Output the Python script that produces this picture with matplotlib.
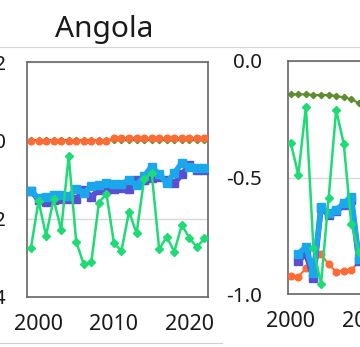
import matplotlib
matplotlib.use("Agg")
import matplotlib.pyplot as plt
from matplotlib.lines import Line2D

plt.rcParams['font.family'] = ['Noto Sans', 'DejaVu Sans']

# Angola (left panel)
years_ao = list(range(1999, 2023))
olive_ao = [0.0] * 24
orange_ao = [-0.001] * 11 + [0.006] * 13
purple_ao = [-0.129, -0.152, -0.157, -0.152, -0.151, -0.150, -0.150, -0.127,
             -0.144, -0.127, -0.127, -0.123, -0.122, -0.123, -0.101, -0.102,
             -0.097, -0.094, -0.101, -0.110, -0.087, -0.063, -0.076, -0.077]
blue_ao = [-0.129, -0.148, -0.145, -0.140, -0.140, -0.143, -0.123, -0.135,
           -0.116, -0.115, -0.110, -0.112, -0.112, -0.100, -0.115, -0.091,
           -0.067, -0.087, -0.108, -0.084, -0.057, -0.067, -0.071, -0.071]
green_ao = [-0.274, -0.155, -0.243, -0.150, -0.229, -0.040, -0.260, -0.316,
            -0.311, -0.160, -0.136, -0.263, -0.282, -0.182, -0.237, -0.099,
            -0.083, -0.278, -0.246, -0.284, -0.216, -0.249, -0.273, -0.250]

# second panel (cut off at the right edge)
years_b = list(range(2000, 2010))
olive_b = [-0.143, -0.143, -0.143, -0.146, -0.146, -0.146, -0.150, -0.156, -0.164, -0.181]
orange_b = [-0.923, -0.926, -0.890, -0.870, -0.828, -0.873, -0.904, -0.900, -0.898, -0.860]
green_b = [-0.350, -0.489, -0.196, -0.804, -0.957, -0.589, -0.210, -0.355, -0.700, -0.820]
years_b2 = list(range(2001, 2010))
purple_b = [-0.860, -0.826, -0.933, -0.630, -0.660, -0.645, -0.620, -0.597, -0.860]
blue_b = [-0.828, -0.797, -0.911, -0.625, -0.654, -0.639, -0.611, -0.582, -0.850]

C_OLIVE = '#5e8c31'
C_ORANGE = '#ff6b35'
C_PURPLE = '#5a4fcf'
C_BLUE = '#1aa7ec'
C_GREEN = '#1edb76'

fig = plt.figure(figsize=(3.6, 3.47), dpi=100)
ax1 = fig.add_axes([27 / 360, 50 / 347, 181 / 360, 235 / 347])
ax2 = fig.add_axes([287.7 / 360, 53 / 347, 181 / 360, 233 / 347])


def draw(ax, yrs, olive, orange, yrs2, purple, blue, green):
    ax.plot(yrs, olive, color=C_OLIVE, lw=1.5, marker='D', ms=3.2, zorder=2)
    ax.plot(yrs, orange, color=C_ORANGE, lw=1.5, marker='o', ms=4.8, zorder=3)
    ax.plot(yrs2, purple, color=C_PURPLE, lw=4, marker='s', ms=5.5, zorder=4)
    ax.plot(yrs2, blue, color=C_BLUE, lw=4, marker='s', ms=5.5, zorder=5)
    ax.plot(yrs, green, color=C_GREEN, lw=1.8, marker='D', ms=4.5, zorder=6)
    ax.grid(axis='y', color='#d9d9d9', lw=1, zorder=0)
    ax.set_axisbelow(True)
    for s in ax.spines.values():
        s.set_color('#666666')
        s.set_linewidth(1.2)
    ax.set_xticks([2000, 2010, 2020])
    ax.tick_params(axis='both', length=0, labelcolor='#1a1a1a')
    ax.tick_params(axis='x', labelsize=15.5, pad=12)
    ax.tick_params(axis='y', labelsize=14.8)


draw(ax1, years_ao, olive_ao, orange_ao, years_ao, purple_ao, blue_ao, green_ao)
ax1.set_xlim(1998.47, 2022.47)
ax1.set_ylim(-0.4, 0.2)
ax1.set_yticks([-0.4, -0.2, 0.0, 0.2])
ax1.set_yticklabels(['-0.4', '-0.2', '0.0', '0.2'])
ax1.tick_params(axis='y', pad=15)

draw(ax2, years_b, olive_b, orange_b, years_b2, purple_b, blue_b, green_b)
ax2.set_xlim(1999.6, 2023.5)
ax2.set_ylim(-1.0, 0.0)
ax2.set_yticks([-1.0, -0.5, 0.0])
ax2.set_yticklabels(['-1.0', '-0.5', '0.0'])
ax2.tick_params(axis='y', pad=18.5)

fig.text(104 / 360, 1 - 36.7 / 347, 'Angola', ha='center', va='baseline',
         fontsize=21.5, color='#1a1a1a')

# light cell borders
fig.add_artist(Line2D([0, 1], [1 - 47 / 347] * 2, color='#d8d8d8', lw=0.8))
fig.add_artist(Line2D([0, 222 / 360], [1 - 343 / 347] * 2, color='#d0d0d0', lw=0.8))

fig.savefig('out.png', dpi=100)
